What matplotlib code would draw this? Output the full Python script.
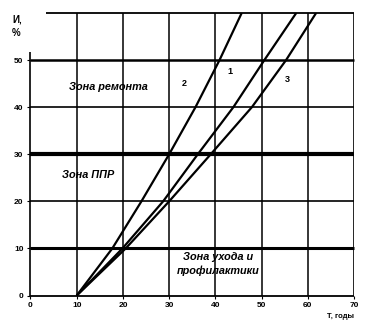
import matplotlib
matplotlib.use("Agg")
import matplotlib.pyplot as plt

# Wear level И, % (y) versus time T, years (x)
levels = [0, 10, 20, 30, 40, 50, 60]
line1_x = [10, 19.9, 28.7, 36.2, 43.9, 50.6, 57.5]
line2_x = [10, 17.7, 24.0, 30.0, 35.7, 40.9, 45.7]
line3_x = [10, 20.6, 30.0, 39.0, 47.9, 55.3, 61.8]

x_ticks = [0, 10, 20, 30, 40, 50, 60, 70]
y_ticks = [0, 10, 20, 30, 40, 50]
x_tick_labels = ["0", "10", "20", "30", "40", "50", "60", "70"]
y_tick_labels = ["0", "10", "20", "30", "40", "50"]

zone_labels = ["Зона ремонта", "Зона ППР", "Зона ухода и\nпрофилактики"]
line_labels = ["1", "2", "3"]

plt.rcParams['font.family'] = ['Liberation Sans', 'DejaVu Sans']

fig = plt.figure(figsize=(3.75, 3.28), dpi=100)
ax = fig.add_axes([30.5 / 375, 1 - 295.5 / 328, (354 - 30.5) / 375, (295.5 - 13) / 328])
ax.set_xlim(0, 70)
ax.set_ylim(0, 60)
for s in ax.spines.values():
    s.set_visible(False)

c = "black"
# vertical grid lines
for xv in [10, 20, 30, 40, 50, 60]:
    ax.plot([xv, xv], [0, 60], color=c, lw=1.1, solid_capstyle='butt')
ax.plot([70, 70], [0, 60], color=c, lw=1.2, solid_capstyle='butt')
# left border (partial as in reference)
ax.plot([0, 0], [0, 51.7], color=c, lw=1.2, solid_capstyle='butt', clip_on=False)
# horizontal lines
hw = {0: 1.3, 10: 2.2, 20: 1.2, 30: 3.0, 40: 1.2, 50: 1.8}
for yv in y_ticks:
    ax.plot([0, 70], [yv, yv], color=c, lw=hw[yv], solid_capstyle='butt', clip_on=False)
ax.plot([3.4, 70], [60, 60], color=c, lw=1.3, solid_capstyle='butt', clip_on=False)

# curves
for xs in (line1_x, line2_x, line3_x):
    ax.plot(xs, levels, color=c, lw=1.6, solid_capstyle='butt', solid_joinstyle='round')

ax.set_xticks(x_ticks)
ax.set_xticklabels(x_tick_labels, fontsize=6, fontweight='bold')
ax.set_yticks(y_ticks)
ax.set_yticklabels(y_tick_labels, fontsize=6, fontweight='bold')
ax.tick_params(axis='both', length=2, width=0.8, pad=3)

tk = dict(fontsize=7.8, fontweight='bold', fontstyle='italic', color=c)
ax.text(8.3, 44.2, zone_labels[0], ha='left', va='center', **tk)
ax.text(6.8, 25.6, zone_labels[1], ha='left', va='center', **tk)
ax.text(40.6, 6.6, zone_labels[2], ha='center', va='center', linespacing=1.4, **tk)

nk = dict(fontsize=6.5, fontweight='bold', color=c, ha='center', va='center')
ax.text(43.2, 47.6, line_labels[0], **nk)
ax.text(33.2, 45.0, line_labels[1], **nk)
ax.text(55.5, 45.9, line_labels[2], **nk)

fig.text(12 / 375, 1 - 26 / 328, "И,\n%", fontsize=7, fontweight='bold', ha='left', va='center', linespacing=1.4)
fig.text(354 / 375, 1 - 317 / 328, "T, годы", fontsize=5.5, fontweight='bold', ha='right', va='center')

fig.savefig("out.png", dpi=100)
